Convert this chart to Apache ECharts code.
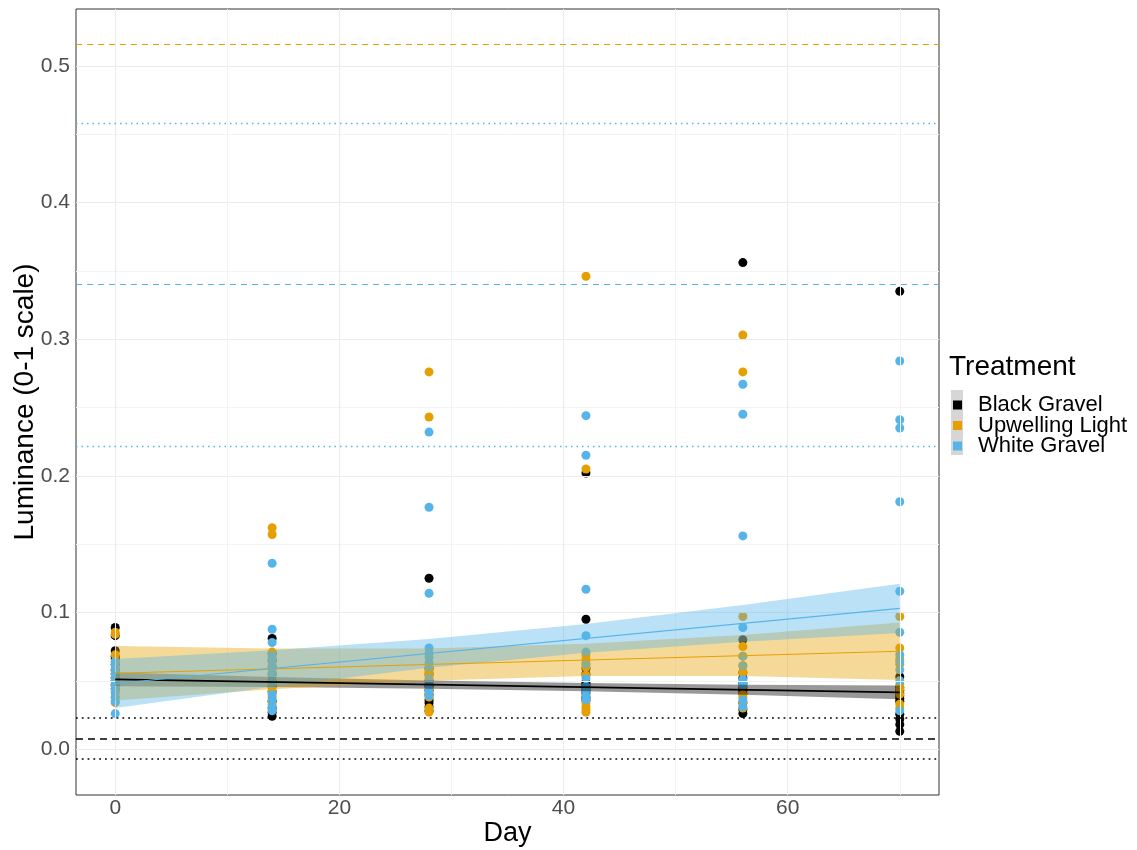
<!DOCTYPE html>
<html><head><meta charset="utf-8">
<script src="https://cdn.jsdelivr.net/npm/echarts@6/dist/echarts.min.js"></script>
<style>html,body{margin:0;padding:0;background:#fff}#c{width:1137px;height:850px}</style>
</head><body><div id="c"></div>
<script>
// ---- data ----
const days = [0, 14, 28, 42, 56, 70];
const groups = ['Black Gravel', 'Upwelling Light', 'White Gravel'];
const colors = ['#000000', '#E69F00', '#56B4E9'];

// observed luminance per day (index matches days)
const blackPts = [
  [0.089, 0.083, 0.072, 0.068, 0.066, 0.062, 0.058, 0.055, 0.052, 0.050, 0.047, 0.044],
  [0.081, 0.070, 0.065, 0.060, 0.055, 0.050, 0.046, 0.042, 0.035, 0.030, 0.027, 0.024],
  [0.125, 0.059, 0.055, 0.050, 0.046, 0.043, 0.040, 0.036, 0.034, 0.031, 0.028],
  [0.202, 0.095, 0.059, 0.055, 0.049, 0.047, 0.045, 0.043, 0.041, 0.038, 0.036],
  [0.356, 0.080, 0.056, 0.052, 0.048, 0.045, 0.043, 0.041, 0.034, 0.029, 0.026],
  [0.335, 0.053, 0.045, 0.043, 0.041, 0.039, 0.037, 0.035, 0.0255, 0.022, 0.018, 0.013]
];
const upwellingPts = [
  [0.0855, 0.084, 0.069, 0.064, 0.060, 0.057, 0.053, 0.049, 0.046, 0.042, 0.038, 0.034],
  [0.162, 0.157, 0.071, 0.066, 0.061, 0.056, 0.050, 0.045, 0.042, 0.038, 0.033],
  [0.276, 0.243, 0.057, 0.054, 0.050, 0.047, 0.044, 0.040, 0.038, 0.030, 0.027],
  [0.346, 0.205, 0.069, 0.066, 0.063, 0.060, 0.054, 0.045, 0.034, 0.031, 0.029, 0.027],
  [0.303, 0.276, 0.097, 0.075, 0.068, 0.061, 0.056, 0.046, 0.040, 0.038, 0.034, 0.030],
  [0.097, 0.074, 0.066, 0.062, 0.047, 0.044, 0.040, 0.033, 0.030]
];
const whitePts = [
  [0.064, 0.061, 0.058, 0.055, 0.052, 0.050, 0.047, 0.044, 0.041, 0.038, 0.035, 0.026],
  [0.136, 0.0877, 0.078, 0.068, 0.064, 0.059, 0.054, 0.048, 0.040, 0.036, 0.031, 0.028],
  [0.232, 0.177, 0.114, 0.074, 0.070, 0.067, 0.063, 0.060, 0.052, 0.047, 0.042, 0.039],
  [0.244, 0.215, 0.117, 0.083, 0.071, 0.062, 0.052, 0.046, 0.043, 0.039, 0.036],
  [0.267, 0.245, 0.156, 0.089, 0.068, 0.061, 0.051, 0.049, 0.047, 0.036, 0.031],
  [0.284, 0.241, 0.235, 0.181, 0.1155, 0.0855, 0.069, 0.064, 0.058, 0.050, 0.028]
];

// fitted linear trends (day 0 and day 70)
const lineDays = [0, 70];
const blackFit = [0.051, 0.0415];
const upwellingFit = [0.0555, 0.0716];
const whiteFit = [0.048, 0.103];

// confidence bands at each sampling day
const blackLo = [0.046, 0.0454, 0.0442, 0.0423, 0.0397, 0.0365];
const blackHi = [0.056, 0.0528, 0.0502, 0.0483, 0.0471, 0.0465];
const upwellingLo = [0.0355, 0.0437, 0.0501, 0.0534, 0.0534, 0.0506];
const upwellingHi = [0.0755, 0.0737, 0.0737, 0.0770, 0.0834, 0.0926];
const whiteLo = [0.030, 0.0456, 0.0595, 0.0705, 0.0786, 0.085];
const whiteHi = [0.066, 0.0724, 0.0805, 0.0915, 0.1054, 0.121];

// reference lines
const refOrangeDashed = [0.5155];
const refBlueDashed = [0.340];
const refBlueDotted = [0.458, 0.2215];
const refBlackDashed = [0.0073];
const refBlackDotted = [0.0227, -0.0073];

// axes
const xTicks = [0, 20, 40, 60];
const xMinor = [10, 30, 50, 70];
const yTicks = [0, 0.1, 0.2, 0.3, 0.4, 0.5];
const yMinor = [0.05, 0.15, 0.25, 0.35, 0.45];

// ---- chart ----
const FONT = 'Liberation Sans, Arial, sans-serif';
const chart = echarts.init(document.getElementById('c'), null, {renderer: 'canvas'});

function pts(arr) {
  const out = [];
  days.forEach((d, i) => arr[i].forEach(v => out.push([d, v])));
  return out;
}
function band(name, lo, hi, color) {
  return {
    type: 'custom', name: name, z: 5, silent: true,
    data: [[0, 0]],
    renderItem: function (params, api) {
      const up = days.map((d, i) => api.coord([d, hi[i]]));
      const dn = days.map((d, i) => api.coord([d, lo[i]])).reverse();
      return {type: 'polygon', shape: {points: up.concat(dn)},
        style: {fill: color, opacity: 0.4}};
    }
  };
}
function fit(name, vals, color, w) {
  return {type: 'line', name: name, z: 6, silent: true, symbol: 'none',
    data: lineDays.map((d, i) => [d, vals[i]]),
    lineStyle: {color: color, width: w}};
}
function refLines(vals, color, type, w) {
  return vals.map(v => ({yAxis: v, lineStyle: {color: color, type: type, width: w}}));
}

const gridLines = [].concat(
  yTicks.map(v => ({yAxis: v, lineStyle: {color: '#EBEBEB', width: 1.1, type: 'solid'}})),
  yMinor.map(v => ({yAxis: v, lineStyle: {color: '#F3F3F3', width: 1, type: 'solid'}})),
  xTicks.map(v => ({xAxis: v, lineStyle: {color: '#EBEBEB', width: 1.1, type: 'solid'}})),
  xMinor.map(v => ({xAxis: v, lineStyle: {color: '#F3F3F3', width: 1, type: 'solid'}}))
);
const refs = [].concat(
  refLines(refOrangeDashed, '#E69F00', [6, 5], 1.2),
  refLines(refBlueDashed, '#56B4E9', [6, 5], 1.2),
  refLines(refBlueDotted, '#56B4E9', [1.5, 4], 1.3),
  refLines(refBlackDashed, '#000000', [7, 5], 1.6),
  refLines(refBlackDotted, '#000000', [1.8, 4], 1.7)
);

const option = {
  animation: false,
  backgroundColor: '#ffffff',
  textStyle: {fontFamily: FONT},
  title: {text: 'Treatment', left: 949, top: 353, padding: 0,
    textStyle: {fontSize: 28, fontWeight: 'normal', color: '#000', fontFamily: FONT}},
  legend: {
    orient: 'vertical', left: 953, top: 394, z: 5, padding: 0,
    itemWidth: 9, itemHeight: 9, itemGap: -1.5, icon: 'rect',
    data: groups,
    textStyle: {fontSize: 22, color: '#000', fontFamily: FONT, padding: [0, 0, 0, 11]},
    selectedMode: false
  },
  graphic: [{type: 'rect', z: 0, shape: {x: 951, y: 390, width: 12, height: 65},
    style: {fill: '#D6D6D6'}}],
  grid: {left: 76, top: 9, width: 863, height: 786, show: true, outerBoundsMode: 'none',
    containLabel: false,
    borderColor: '#333333', borderWidth: 1, backgroundColor: 'transparent'},
  xAxis: {
    type: 'value', min: -3.5, max: 73.5,
    name: 'Day', nameLocation: 'middle', nameGap: 25, nameMoveOverlap: false,
    nameTextStyle: {fontSize: 27, color: '#000', fontFamily: FONT},
    axisLine: {show: false},
    splitLine: {show: false},
    axisTick: {show: true, length: 4, customValues: xTicks, lineStyle: {color: '#333'}},
    axisLabel: {customValues: xTicks, fontSize: 21, color: '#4D4D4D', margin: 3, fontFamily: FONT}
  },
  yAxis: {
    type: 'value', min: -0.0336, max: 0.5416,
    name: 'Luminance (0-1 scale)', nameLocation: 'middle', nameGap: 37, nameMoveOverlap: false,
    nameTextStyle: {fontSize: 28, color: '#000', fontFamily: FONT},
    axisLine: {show: false},
    splitLine: {show: false},
    axisTick: {show: true, length: 4, customValues: yTicks, lineStyle: {color: '#333'}},
    axisLabel: {customValues: yTicks, fontSize: 21, color: '#4D4D4D', margin: 6, fontFamily: FONT,
      formatter: v => v.toFixed(1)}
  },
  series: [
    {type: 'line', name: 'grid', data: [], z: 1, silent: true,
      markLine: {silent: true, symbol: 'none', precision: 4, label: {show: false}, animation: false, data: gridLines}},
    {type: 'scatter', name: groups[0], data: pts(blackPts), symbolSize: 9, z: 3,
      itemStyle: {color: colors[0], opacity: 1}},
    {type: 'scatter', name: groups[1], data: pts(upwellingPts), symbolSize: 9, z: 3,
      itemStyle: {color: colors[1], opacity: 1}},
    {type: 'scatter', name: groups[2], data: pts(whitePts), symbolSize: 9, z: 3,
      itemStyle: {color: colors[2], opacity: 1}},
    band('bandB', blackLo, blackHi, '#000000'),
    band('bandU', upwellingLo, upwellingHi, '#E69F00'),
    band('bandW', whiteLo, whiteHi, '#56B4E9'),
    fit('fitB', blackFit, '#000000', 1.6),
    fit('fitU', upwellingFit, '#E69F00', 1.2),
    fit('fitW', whiteFit, '#56B4E9', 1.2),
    {type: 'line', name: 'refs', data: [], z: 7, silent: true,
      markLine: {silent: true, symbol: 'none', precision: 4, label: {show: false}, animation: false, data: refs}}
  ]
};
chart.setOption(option);
</script>
</body></html>
